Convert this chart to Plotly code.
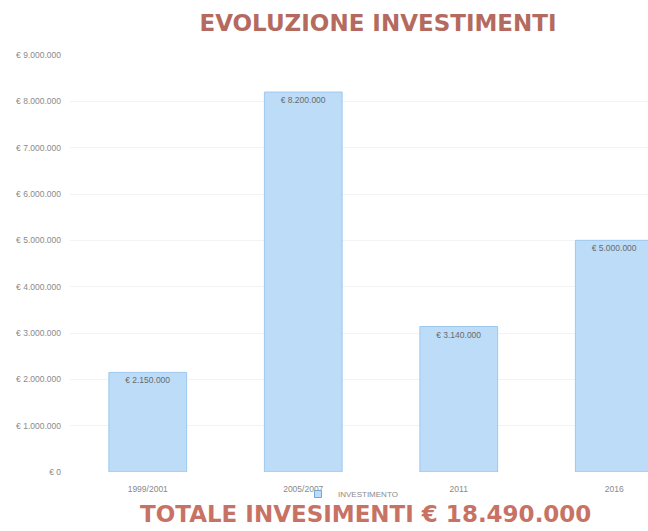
import plotly.graph_objects as go

categories = ["1999/2001", "2005/2007", "2011", "2016"]
values = [2150000, 8200000, 3140000, 5000000]
series_name = "INVESTIMENTO"
y_ticks = [0, 1000000, 2000000, 3000000, 4000000, 5000000, 6000000, 7000000, 8000000, 9000000]


def eur(v):
    return "€ " + f"{v:,}".replace(",", ".")


y_ticktext = [eur(v) for v in y_ticks]
total = sum(values)
bar_fill = "#bcdcf8"
bar_line = "#9cc8ee"

fig = go.Figure()
fig.add_trace(go.Bar(
    x=categories, y=values, name=series_name, showlegend=False, legendgroup="inv",
    marker=dict(color=bar_fill, line=dict(color=bar_line, width=1)),
    width=0.5,
    text=[eur(v) for v in values],
    texttemplate="%{text}", textposition="inside", insidetextanchor="end",
    textfont=dict(family="Liberation Sans", size=8.5, color="#6a6a6a"),
    constraintext="none", cliponaxis=True,
))
# legend entry with a small square swatch, as in the reference
fig.add_trace(go.Scatter(
    x=[None], y=[None], mode="markers", name=series_name, legendgroup="inv",
    marker=dict(symbol="square", size=7, color=bar_fill, line=dict(color="#6fa8dc", width=1)),
))

fig.update_layout(
    width=648, height=531,
    margin=dict(l=70, r=0, t=55, b=59, autoexpand=False),
    paper_bgcolor="white", plot_bgcolor="white",
    title=dict(text="<b>EVOLUZIONE INVESTIMENTI</b>", x=378/648, xanchor="center",
               y=1 - 23/531, yanchor="middle", yref="container", xref="container",
               font=dict(family="DejaVu Sans", size=23, color="#b56a60")),
    showlegend=True,
    legend=dict(orientation="h", x=298/648, xanchor="left", xref="container",
                y=1 - 494/531, yanchor="middle", yref="container",
                font=dict(family="Liberation Sans", size=8, color="#8a8a8a"),
                itemwidth=30, bgcolor="rgba(0,0,0,0)"),
    xaxis=dict(range=[-0.5, 3.5 - (692 - 648) / 155.5], showgrid=False, showline=False,
               ticks="", tickfont=dict(family="Liberation Sans", size=8.5, color="#8a8a8a"),
               ticklabelstandoff=10, fixedrange=True, automargin=False),
    yaxis=dict(range=[0, 9000000], tickvals=y_ticks, ticktext=y_ticktext,
               showgrid=True, gridcolor="#f3f3f3", zeroline=False, showline=False,
               tickfont=dict(family="Liberation Sans", size=8.5, color="#8a8a8a"),
               ticks="", ticklabelstandoff=8, automargin=False),
    annotations=[dict(text=f"<b>TOTALE INVESIMENTI {eur(total)}</b>",
                      x=(365 - 70) / 578, y=(472 - 514) / 417, xref="paper", yref="paper",
                      xanchor="center", yanchor="middle", showarrow=False,
                      font=dict(family="DejaVu Sans", size=23, color="#c77265"))],
)

fig.write_html("out.html")
